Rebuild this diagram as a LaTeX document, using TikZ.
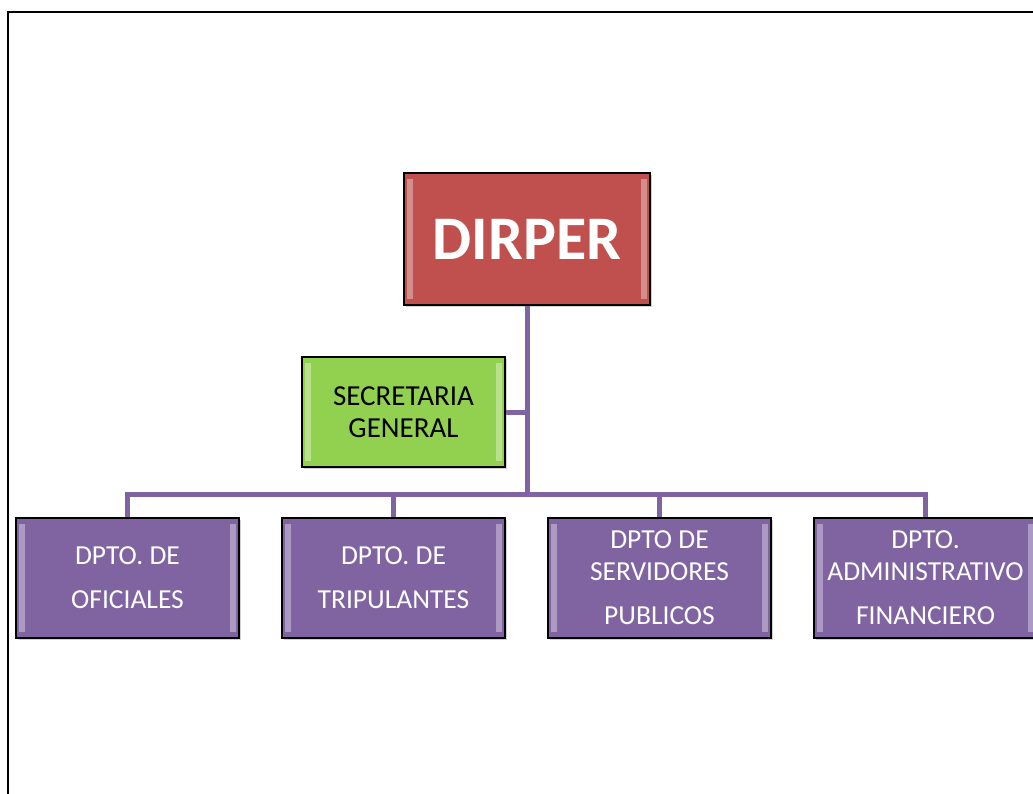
\documentclass[tikz,border=0pt]{standalone}
\usepackage{fontspec}
\setmainfont{Carlito}
\usetikzlibrary{positioning,shadows}
\definecolor{colordir} {RGB}{192,80 ,77 }
\definecolor{colorsec} {RGB}{146,208,80 }
\definecolor{colordpto}{RGB}{128,100,162}

\begin{document}
\begin{tikzpicture}[
    x=1pt, y=-1pt,
    node distance = 41.8pt,
    box/.style={draw=black,line width=1.2pt,align=center,
        drop shadow={shadow xshift=2pt,shadow yshift=-2pt,opacity=.35},
        path picture={
            \fill[white,opacity=.35]
                ([xshift=3pt,yshift=-6pt]path picture bounding box.north west)
                rectangle ([xshift=9pt,yshift=6pt]path picture bounding box.south west);
            \fill[white,opacity=.35]
                ([xshift=-3pt,yshift=-6pt]path picture bounding box.north east)
                rectangle ([xshift=-9pt,yshift=6pt]path picture bounding box.south east);
        }},
    dirbox/.style={box,fill=colordir,text=white,minimum width=246pt,minimum height=132pt,
        font={\fontsize{62}{70}\selectfont\bfseries}},
    secbox/.style={box,fill=colorsec,text=black,minimum width=203pt,minimum height=110pt,
        font={\fontsize{29}{32}\selectfont}},
    dptobox/.style={box,fill=colordpto,text=white,minimum width=223pt,minimum height=120pt,
        font={\fontsize{27.5}{32}\selectfont}},
    link/.style={draw=colordpto,line width=5pt},
]

    \useasboundingbox (0,0) rectangle (1033,794);
    \fill[white] (0,0) rectangle (1033,794);
    \draw[line width=2.5pt] (8,794) -- (8,12) -- (1033,12);

    \node[dirbox]  (dirper)     at (527,239)   {DIRPER};
    \node[secbox]  (secretaria) at (403.5,412) {SECRETARIA\\GENERAL};

    \node[dptobox] (oficiales)  at (127.5,578) {DPTO. DE\\[12pt]OFICIALES};
    \node[dptobox,right=of oficiales]   (tripulantes)    {DPTO. DE\\[12pt]TRIPULANTES};
    \node[dptobox,right=of tripulantes] (servidores)     {DPTO DE\\SERVIDORES\\[12pt]PUBLICOS};
    \node[dptobox,right=of servidores]  (administrativo) {DPTO.\\ADMINISTRATIVO\\[12pt]FINANCIERO};

    \coordinate (bus) at (526,494);

    % lineas
    \draw[link] (dirper.south) -- (dirper.south |- bus);
    \draw[link] (secretaria.east) -- (secretaria.east -| dirper.south);
    \draw[link] (oficiales.north) |- (administrativo.north |- bus) -- (administrativo.north);
    \draw[link] (tripulantes.north) -- (tripulantes.north |- bus);
    \draw[link] (servidores.north) -- (servidores.north |- bus);

\end{tikzpicture}
\end{document}
